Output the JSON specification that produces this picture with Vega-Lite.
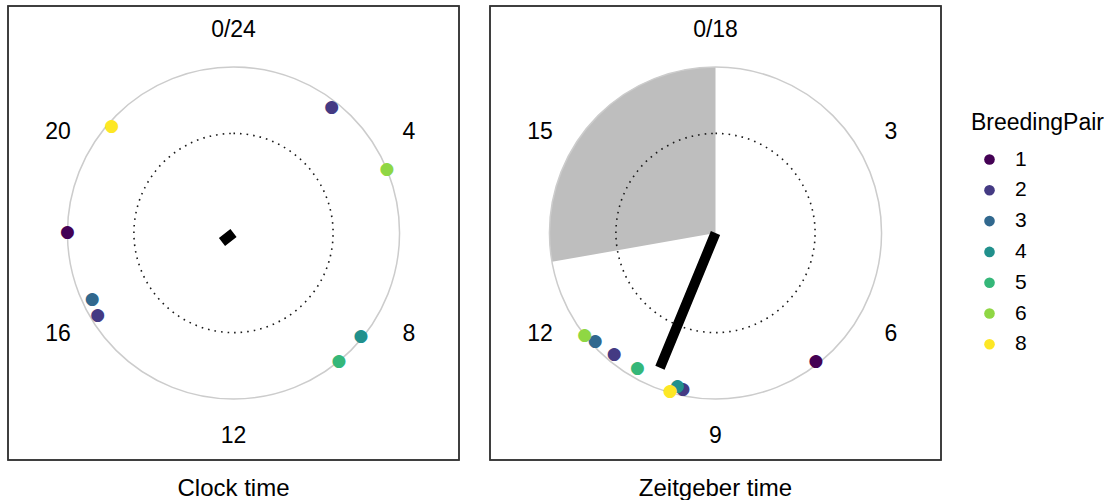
{
  "$schema": "https://vega.github.io/schema/vega-lite/v6.json",
  "padding": {"left": 6, "top": 4, "right": 0, "bottom": 0},
  "background": "white",
  "datasets": {
    "clock": [
      {"BreedingPair": 1, "hour": 18.02, "r": 1.0},
      {"BreedingPair": 2, "hour": 2.53, "r": 0.961},
      {"BreedingPair": 2, "hour": 15.92, "r": 0.956},
      {"BreedingPair": 3, "hour": 16.33, "r": 0.94},
      {"BreedingPair": 4, "hour": 8.6, "r": 0.988},
      {"BreedingPair": 5, "hour": 9.37, "r": 1.0},
      {"BreedingPair": 6, "hour": 4.5, "r": 1.0},
      {"BreedingPair": 8, "hour": 20.76, "r": 0.979}
    ],
    "zeitgeber": [
      {"BreedingPair": 1, "hour": 7.09, "r": 0.978},
      {"BreedingPair": 2, "hour": 11.0, "r": 0.95},
      {"BreedingPair": 2, "hour": 9.59, "r": 0.959},
      {"BreedingPair": 3, "hour": 11.4, "r": 0.976},
      {"BreedingPair": 4, "hour": 9.7, "r": 0.947},
      {"BreedingPair": 5, "hour": 10.5, "r": 0.941},
      {"BreedingPair": 6, "hour": 11.6, "r": 1.0},
      {"BreedingPair": 8, "hour": 9.8, "r": 0.99}
    ]
  },
  "hconcat": [
    {
      "width": 451,
      "height": 454,
      "title": {"text": "Clock time", "orient": "bottom", "offset": 16},
      "layer": [
        {
          "data": {"values": [{}]},
          "mark": {"type": "rect", "filled": false, "stroke": "#333333", "strokeWidth": 1.5},
          "encoding": {
            "x": {"datum": 0, "type": "quantitative", "axis": null, "scale": {"domain": [0, 1], "nice": false, "zero": false}},
            "x2": {"datum": 1},
            "y": {"datum": 0, "type": "quantitative", "axis": null, "scale": {"domain": [0, 1], "nice": false, "zero": false}},
            "y2": {"datum": 1}
          }
        },
        {
          "data": {"values": [{}]},
          "mark": {"type": "arc", "filled": false, "stroke": "#cccccc", "strokeWidth": 1.5},
          "encoding": {
            "theta": {"datum": 0, "type": "quantitative", "scale": {"domain": [0, 24], "range": [0, 6.283185307179586], "nice": false}},
            "theta2": {"datum": 24},
            "radius": {"datum": 1, "type": "quantitative", "scale": {"type": "linear", "domain": [0, 1], "range": [0, 166], "nice": false}}
          }
        },
        {
          "data": {"values": [{}]},
          "mark": {"type": "arc", "filled": false, "stroke": "#1a1a1a", "strokeWidth": 1.6, "strokeDash": [1.6, 5]},
          "encoding": {
            "theta": {"datum": 0, "type": "quantitative", "scale": {"domain": [0, 24], "range": [0, 6.283185307179586], "nice": false}},
            "theta2": {"datum": 24},
            "radius": {"datum": 0.6, "type": "quantitative", "scale": {"type": "linear", "domain": [0, 1], "range": [0, 166], "nice": false}}
          }
        },
        {
          "data": {"values": [{"angle": 15.47, "length": 0.088}]},
          "mark": {"type": "arc", "filled": false, "stroke": "black", "strokeWidth": 10},
          "encoding": {
            "theta": {"field": "angle", "type": "quantitative", "scale": {"domain": [0, 24], "range": [0, 6.283185307179586], "nice": false}},
            "theta2": {"field": "angle"},
            "radius": {"field": "length", "type": "quantitative", "scale": {"type": "linear", "domain": [0, 1], "range": [0, 166], "nice": false}}
          }
        },
        {
          "data": {"name": "clock"},
          "mark": {"type": "text", "text": "●", "font": "DejaVu Sans", "fontSize": 17, "align": "center", "baseline": "middle"},
          "encoding": {
            "theta": {"field": "hour", "type": "quantitative", "stack": null, "scale": {"domain": [0, 24], "range": [0, 6.283185307179586], "nice": false}},
            "radius": {"field": "r", "type": "quantitative", "scale": {"type": "linear", "domain": [0, 1], "range": [0, 166], "nice": false}},
            "color": {"field": "BreedingPair", "type": "nominal", "title": "BreedingPair",
              "scale": {"domain": [1, 2, 3, 4, 5, 6, 8], "range": ["#440154", "#443A83", "#31688E", "#21908C", "#35B779", "#8FD744", "#FDE725"]}}
          }
        },
        {
          "data": {"values": [{"hour": 0, "label": "0/24"}, {"hour": 4, "label": "4"}, {"hour": 8, "label": "8"}, {"hour": 12, "label": "12"}, {"hour": 16, "label": "16"}, {"hour": 20, "label": "20"}]},
          "mark": {"type": "text", "fontSize": 23, "align": "center", "baseline": "middle", "color": "black"},
          "encoding": {
            "theta": {"field": "hour", "type": "quantitative", "stack": null, "scale": {"domain": [0, 24], "range": [0, 6.283185307179586], "nice": false}},
            "radius": {"datum": 1.22, "type": "quantitative", "scale": {"type": "linear", "domain": [0, 1], "range": [0, 166], "nice": false}},
            "text": {"field": "label"}
          }
        }
      ]
    },
    {
      "width": 451,
      "height": 454,
      "title": {"text": "Zeitgeber time", "orient": "bottom", "offset": 16},
      "layer": [
        {
          "data": {"values": [{}]},
          "mark": {"type": "rect", "filled": false, "stroke": "#333333", "strokeWidth": 1.5},
          "encoding": {
            "x": {"datum": 0, "type": "quantitative", "axis": null, "scale": {"domain": [0, 1], "nice": false, "zero": false}},
            "x2": {"datum": 1},
            "y": {"datum": 0, "type": "quantitative", "axis": null, "scale": {"domain": [0, 1], "nice": false, "zero": false}},
            "y2": {"datum": 1}
          }
        },
        {
          "data": {"values": [{"start": 13, "end": 18}]},
          "mark": {"type": "arc", "fill": "#bebebe", "stroke": null},
          "encoding": {
            "theta": {"field": "start", "type": "quantitative", "scale": {"domain": [0, 18], "range": [0, 6.283185307179586], "nice": false}},
            "theta2": {"field": "end"},
            "radius": {"datum": 1, "type": "quantitative", "scale": {"type": "linear", "domain": [0, 1], "range": [0, 166], "nice": false}}
          }
        },
        {
          "data": {"values": [{}]},
          "mark": {"type": "arc", "filled": false, "stroke": "#cccccc", "strokeWidth": 1.5},
          "encoding": {
            "theta": {"datum": 0, "type": "quantitative", "scale": {"domain": [0, 18], "range": [0, 6.283185307179586], "nice": false}},
            "theta2": {"datum": 18},
            "radius": {"datum": 1, "type": "quantitative", "scale": {"type": "linear", "domain": [0, 1], "range": [0, 166], "nice": false}}
          }
        },
        {
          "data": {"values": [{}]},
          "mark": {"type": "arc", "filled": false, "stroke": "#1a1a1a", "strokeWidth": 1.6, "strokeDash": [1.6, 5]},
          "encoding": {
            "theta": {"datum": 0, "type": "quantitative", "scale": {"domain": [0, 18], "range": [0, 6.283185307179586], "nice": false}},
            "theta2": {"datum": 18},
            "radius": {"datum": 0.6, "type": "quantitative", "scale": {"type": "linear", "domain": [0, 1], "range": [0, 166], "nice": false}}
          }
        },
        {
          "data": {"values": [{"angle": 10.12, "length": 0.878}]},
          "mark": {"type": "arc", "filled": false, "stroke": "black", "strokeWidth": 10},
          "encoding": {
            "theta": {"field": "angle", "type": "quantitative", "scale": {"domain": [0, 18], "range": [0, 6.283185307179586], "nice": false}},
            "theta2": {"field": "angle"},
            "radius": {"field": "length", "type": "quantitative", "scale": {"type": "linear", "domain": [0, 1], "range": [0, 166], "nice": false}}
          }
        },
        {
          "data": {"name": "zeitgeber"},
          "mark": {"type": "text", "text": "●", "font": "DejaVu Sans", "fontSize": 17, "align": "center", "baseline": "middle"},
          "encoding": {
            "theta": {"field": "hour", "type": "quantitative", "stack": null, "scale": {"domain": [0, 18], "range": [0, 6.283185307179586], "nice": false}},
            "radius": {"field": "r", "type": "quantitative", "scale": {"type": "linear", "domain": [0, 1], "range": [0, 166], "nice": false}},
            "color": {"field": "BreedingPair", "type": "nominal", "title": "BreedingPair",
              "scale": {"domain": [1, 2, 3, 4, 5, 6, 8], "range": ["#440154", "#443A83", "#31688E", "#21908C", "#35B779", "#8FD744", "#FDE725"]}}
          }
        },
        {
          "data": {"values": [{"hour": 0, "label": "0/18"}, {"hour": 3, "label": "3"}, {"hour": 6, "label": "6"}, {"hour": 9, "label": "9"}, {"hour": 12, "label": "12"}, {"hour": 15, "label": "15"}]},
          "mark": {"type": "text", "fontSize": 23, "align": "center", "baseline": "middle", "color": "black"},
          "encoding": {
            "theta": {"field": "hour", "type": "quantitative", "stack": null, "scale": {"domain": [0, 18], "range": [0, 6.283185307179586], "nice": false}},
            "radius": {"datum": 1.22, "type": "quantitative", "scale": {"type": "linear", "domain": [0, 1], "range": [0, 166], "nice": false}},
            "text": {"field": "label"}
          }
        }
      ]
    }
  ],
  "spacing": 27,
  "resolve": {"scale": {"theta": "independent", "radius": "independent", "x": "independent", "y": "independent", "color": "shared"}},
  "config": {
    "font": "Liberation Sans",
    "view": {"stroke": "#333333", "strokeWidth": 1.5},
    "title": {"fontSize": 24, "fontWeight": "normal", "color": "black", "font": "Liberation Sans"},
    "legend": {
      "orient": "none",
      "legendX": 963,
      "legendY": 106,
      "titleFontSize": 23,
      "titleFontWeight": "normal",
      "titleColor": "black",
      "titleFont": "Liberation Sans",
      "titlePadding": 14,
      "labelFontSize": 21,
      "labelColor": "black",
      "labelFont": "Liberation Sans",
      "symbolType": "circle",
      "symbolSize": 113,
      "symbolStrokeWidth": 0,
      "symbolOffset": 8,
      "labelOffset": 15,
      "rowPadding": 8.8
    }
  }
}
